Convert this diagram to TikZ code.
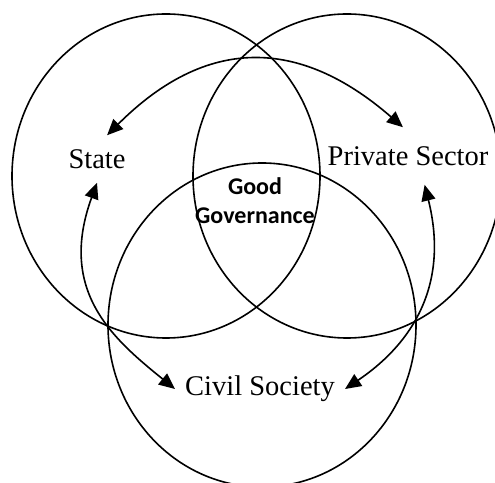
\documentclass[tikz,border=0pt]{standalone}
\usepackage{fontspec}
\setmainfont{Liberation Serif}
\newfontfamily\ggfont{Carlito}
\usetikzlibrary{arrows.meta}

\begin{document}
\begin{tikzpicture}[x=1pt,y=1pt]
		\tikzstyle{ring}=[line width=1.6pt]
		\tikzstyle{sector}=[font=\fontsize{28.5}{32}\selectfont, inner xsep=10pt, inner ysep=14pt]
		\tikzstyle{link}=[line width=1.6pt, {Triangle[length=16pt,width=14pt]}-{Triangle[length=16pt,width=14pt]}]
		\useasboundingbox (0,0) rectangle (495,482);
		% the three circles
		\draw[ring] (166,306) ellipse [x radius=154pt, y radius=162pt];
		\draw[ring] (347,306) ellipse [x radius=154pt, y radius=162pt];
		\draw[ring] (262,157) ellipse [x radius=154pt, y radius=162pt];
		% labels
		\node[sector] (state) at (97,323) {State};
		\node[sector, inner ysep=19pt] (private) at (408,326) {Private Sector};
		\node[sector] (civil) at (260,93) {Civil Society};
		\node[font=\fontsize{24}{29}\selectfont\ggfont\bfseries, align=center] (good) at (255,281) {Good\\Governance};
		% arrows
		\draw[link] (state.67) to[out=45, in=139, looseness=1.2] (private.100);
		\draw[link] (state.south) to[out=250, in=141, out looseness=1.34, in looseness=0.93] (civil.west);
		\draw[link] (private.-60) to[out=284, in=34, out looseness=1.22, in looseness=0.93] (civil.east);
\end{tikzpicture}
\end{document}
